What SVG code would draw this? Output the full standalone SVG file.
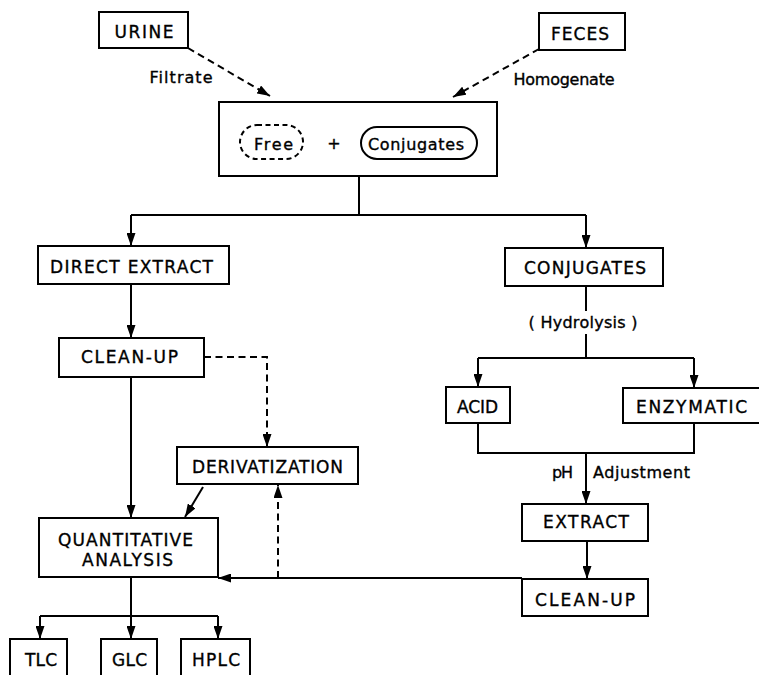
<svg xmlns="http://www.w3.org/2000/svg" width="759" height="675" viewBox="0 0 759 675">
<defs>
<marker id="ah" viewBox="0 0 10 10" refX="10" refY="5" markerWidth="13" markerHeight="9" markerUnits="userSpaceOnUse" orient="auto" preserveAspectRatio="none">
<path d="M0,0 L10,5 L0,10 Z" fill="#000"/>
</marker>
<style>
.box{fill:#fff;stroke:#000;stroke-width:2}
.dbox{fill:none;stroke:#000;stroke-width:2;stroke-dasharray:5 3.5}
.ln{fill:none;stroke:#000;stroke-width:2}
.arr{fill:none;stroke:#000;stroke-width:2;marker-end:url(#ah)}
.dash{fill:none;stroke:#000;stroke-width:2;stroke-dasharray:7 4.5;marker-end:url(#ah)}
text{font-family:"DejaVu Sans","Liberation Sans",sans-serif;fill:#000;stroke:#000;stroke-width:0.35;text-anchor:middle}
.u{font-size:17px}
.l{font-size:16px}
</style>
</defs>
<rect width="759" height="675" fill="#fff"/>
<g id="connectors">
<path class="dash" d="M188,48 L270,96"/>
<path class="dash" d="M539,49 L453,97"/>
<path class="ln" d="M359,176 V215 M131,215 H586"/>
<path class="arr" d="M131,215 V246"/>
<path class="arr" d="M586,215 V248"/>
<path class="arr" d="M131,284 V338"/>
<path class="arr" d="M131,377 V518"/>
<path class="dash" d="M204,357 H267 V447"/>
<path class="arr" d="M203,487 L185,517"/>
<path class="arr" d="M522,578 H218"/>
<path class="dash" d="M278,578 V485"/>
<path class="ln" d="M131,577 V616 M40,616 H218"/>
<path class="arr" d="M40,616 V639"/>
<path class="arr" d="M131,616 V639"/>
<path class="arr" d="M218,616 V639"/>
<path class="ln" d="M586,286 V311 M586,334 V358 M478,358 H694"/>
<path class="arr" d="M478,358 V387"/>
<path class="arr" d="M694,358 V388"/>
<path class="ln" d="M478,423 V453 H694 V423"/>
<path class="arr" d="M586,453 V504"/>
<path class="arr" d="M587,541 V579"/>
</g>
<g id="urine"><rect class="box" x="99" y="12" width="89" height="36"/><text class="u" x="144" y="38" textLength="59" lengthAdjust="spacing">URINE</text></g>
<g id="feces"><rect class="box" x="539" y="13" width="86" height="37"/><text class="u" x="580" y="40" textLength="58" lengthAdjust="spacing">FECES</text></g>
<g id="label-filtrate"><text class="l" x="181" y="83" textLength="63" lengthAdjust="spacing">Filtrate</text></g>
<g id="label-homogenate"><text class="l" x="564" y="85" textLength="101" lengthAdjust="spacing">Homogenate</text></g>
<g id="mixture">
<rect class="box" x="219" y="102" width="278" height="74"/>
<rect class="dbox" x="240" y="125" width="63" height="34" rx="17"/>
<text class="l" x="273.5" y="150" textLength="39" lengthAdjust="spacing">Free</text>
<text class="l" x="334" y="149">+</text>
<rect class="box" x="361" y="127" width="116" height="32" rx="16" style="fill:none"/>
<text class="l" x="416" y="150" textLength="96" lengthAdjust="spacing">Conjugates</text>
</g>
<g id="direct-extract"><rect class="box" x="38" y="246" width="191" height="38"/><text class="u" x="131.5" y="273" textLength="163" lengthAdjust="spacing">DIRECT EXTRACT</text></g>
<g id="cleanup-left"><rect class="box" x="59" y="338" width="145" height="39"/><text class="u" x="129.5" y="363" textLength="97" lengthAdjust="spacing">CLEAN-UP</text></g>
<g id="derivatization"><rect class="box" x="177" y="447" width="181" height="37"/><text class="u" x="267.5" y="473" textLength="151" lengthAdjust="spacing">DERIVATIZATION</text></g>
<g id="quantitative"><rect class="box" x="39" y="518" width="179" height="59"/><text class="u" x="125.5" y="546" textLength="135" lengthAdjust="spacing">QUANTITATIVE</text><text class="u" x="127.5" y="566" textLength="91" lengthAdjust="spacing">ANALYSIS</text></g>
<g id="tlc"><rect class="box" x="10" y="639" width="57" height="50"/><text class="u" x="41" y="666" textLength="32" lengthAdjust="spacing">TLC</text></g>
<g id="glc"><rect class="box" x="101" y="639" width="56" height="50"/><text class="u" x="129.5" y="666" textLength="35" lengthAdjust="spacing">GLC</text></g>
<g id="hplc"><rect class="box" x="181" y="639" width="69" height="50"/><text class="u" x="216" y="666" textLength="48" lengthAdjust="spacing">HPLC</text></g>
<g id="conjugates"><rect class="box" x="505" y="248" width="158" height="38"/><text class="u" x="585" y="274" textLength="122" lengthAdjust="spacing">CONJUGATES</text></g>
<g id="label-hydrolysis"><text class="l" x="583" y="328" textLength="109" lengthAdjust="spacing">( Hydrolysis )</text></g>
<g id="acid"><rect class="box" x="446" y="387" width="64" height="36"/><text class="u" x="477.5" y="413" textLength="41" lengthAdjust="spacing">ACID</text></g>
<g id="enzymatic"><rect class="box" x="623" y="388" width="140" height="35"/><text class="u" x="691.5" y="413" textLength="111" lengthAdjust="spacing">ENZYMATIC</text></g>
<g id="label-ph"><text class="l" x="562.5" y="478" textLength="21" lengthAdjust="spacing">pH</text><text class="l" x="641.5" y="478" textLength="97" lengthAdjust="spacing">Adjustment</text></g>
<g id="extract"><rect class="box" x="522" y="504" width="126" height="37"/><text class="u" x="586" y="528" textLength="86" lengthAdjust="spacing">EXTRACT</text></g>
<g id="cleanup-right"><rect class="box" x="522" y="579" width="126" height="37"/><text class="u" x="585" y="606" textLength="100" lengthAdjust="spacing">CLEAN-UP</text></g>
</svg>
